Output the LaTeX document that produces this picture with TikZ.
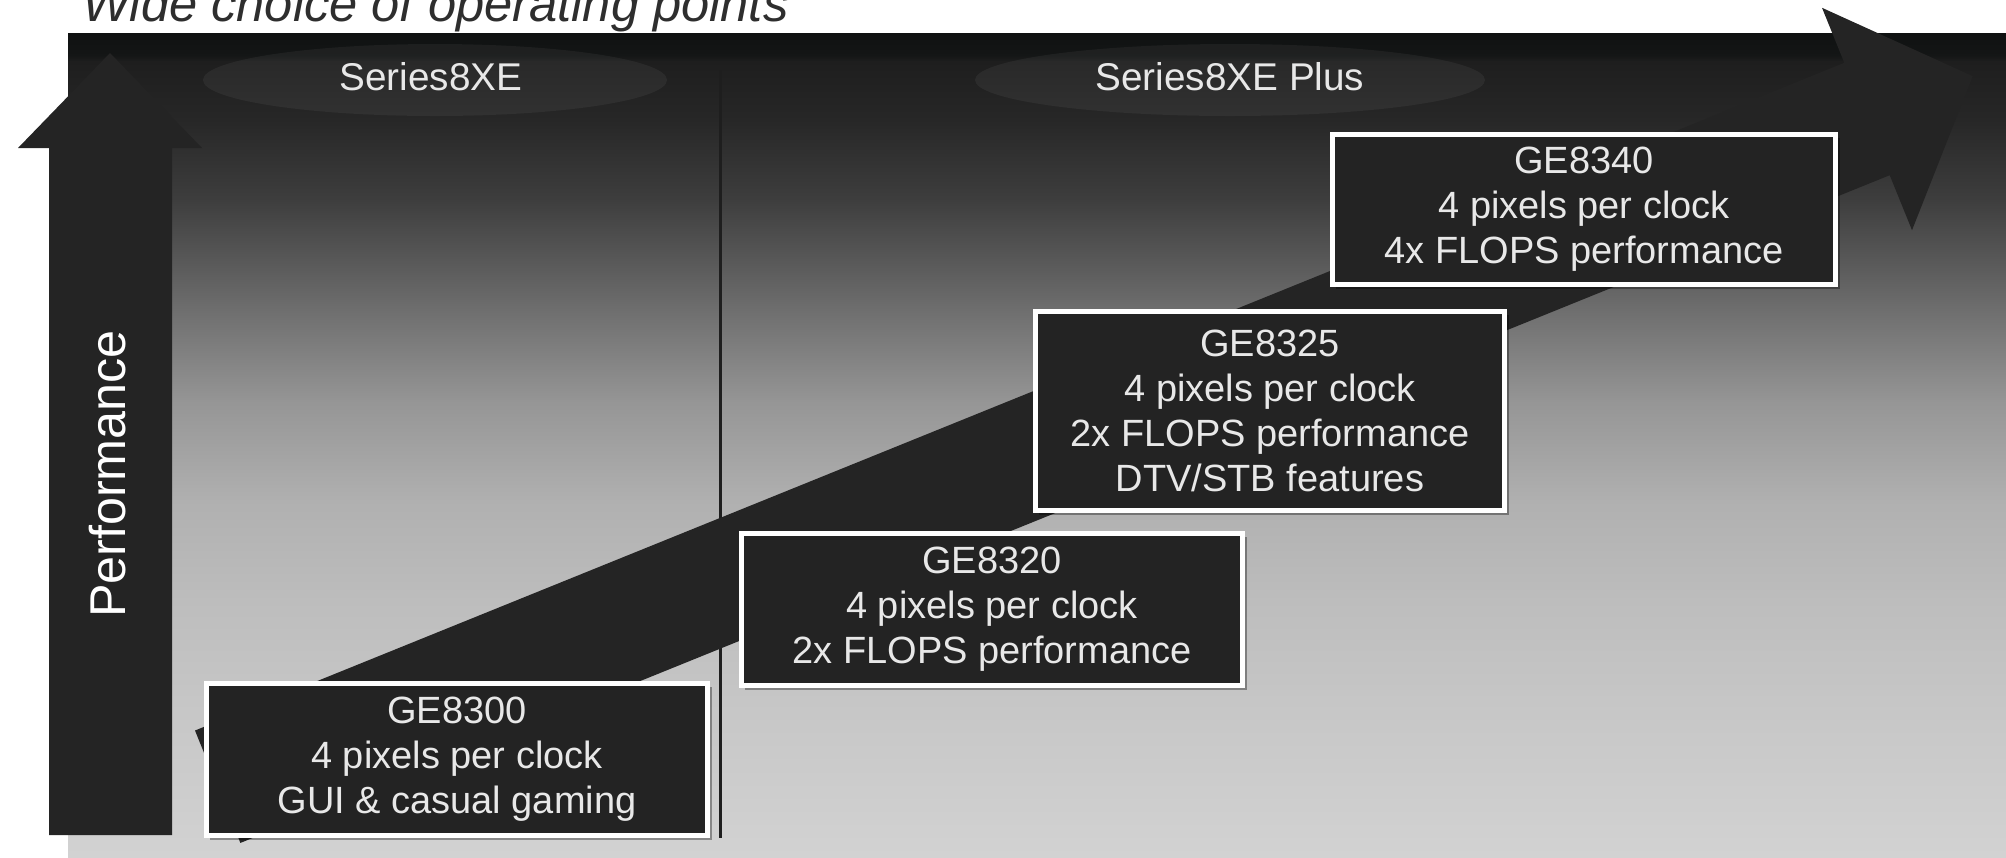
\documentclass[tikz,border=0pt]{standalone}
\usepackage{fontspec}
\setmainfont{Liberation Sans}
\usepackage{tikz}
\usetikzlibrary{shadows}
\definecolor{bgA}{HTML}{0F1111}
\definecolor{bgB}{HTML}{141616}
\definecolor{bgC}{HTML}{1E1E1E}
\definecolor{bgD}{HTML}{272727}
\definecolor{bgE}{HTML}{3E3E3E}
\definecolor{bgF}{HTML}{6A6A6A}
\definecolor{bgG}{HTML}{959595}
\definecolor{bgH}{HTML}{B0B0B0}
\definecolor{bgI}{HTML}{BDBDBD}
\definecolor{bgJ}{HTML}{C6C6C6}
\definecolor{bgK}{HTML}{D2D2D2}
\definecolor{arrowgray}{HTML}{242424}
\definecolor{boxgray}{HTML}{232323}
\definecolor{boxtext}{HTML}{E8E8E8}
\definecolor{titlegray}{HTML}{2E2E2E}
\tikzset{
  modelbox/.style    = {draw=white,line width=1.4pt,fill=boxgray,text=boxtext,
                        align=center,inner sep=0pt,
                        font=\fontsize{10.8}{12.8}\selectfont,
                        drop shadow={shadow xshift=0.04cm,shadow yshift=-0.04cm,
                                     fill=black,opacity=0.35}},
  serieslabel/.style = {text=boxtext,font=\fontsize{11}{13}\selectfont},
  seriesglow/.style  = {fill=white,opacity=0.05},
  bigarrow/.style    = {fill=arrowgray},
  divider/.style     = {draw=bgC,line width=0.85pt}
}

\begin{document}
\begin{tikzpicture}[x=0.01cm,y=-0.01cm]
  \useasboundingbox (0,0) rectangle (2006,857);
  % --- title, mostly cut off by the top edge
  \node[anchor=base west,text=titlegray,font=\itshape\fontsize{14.4}{16}\selectfont]
       (title) at (70,21) {Wide choice of operating points};
  % --- background panel, dark at the top, light at the bottom
  \foreach \ya/\yb/\ca/\cb in {33/56/bgA/bgB, 55/62/bgB/bgC, 61/121/bgC/bgD,
      120/201/bgD/bgE, 200/301/bgE/bgF, 300/401/bgF/bgG, 400/501/bgG/bgH,
      500/601/bgH/bgI, 600/701/bgI/bgJ, 700/857/bgJ/bgK}
    { \shade[top color=\ca,bottom color=\cb] (68,\ya) rectangle (2006,\yb); }
  \fill[seriesglow] (435,80) ellipse [x radius=232,y radius=36];
  \fill[seriesglow] (1230,80) ellipse [x radius=255,y radius=36];
  \node[serieslabel] (s8xe)     at (431,77)  {Series8XE};
  \node[serieslabel] (s8xeplus) at (1230,77) {Series8XE Plus};
  % --- divider between the two series
  \draw[divider] (720,70) -- (720,838);
  % --- vertical performance arrow
  \fill[bigarrow] (49,835) -- (172,835) -- (172,148) -- (202,148)
                  -- (110,53) -- (18,148) -- (49,148) -- cycle;
  \node[rotate=90,text=white,font=\fontsize{14.3}{16}\selectfont]
       (perf) at (108,474) {Performance};
  % --- diagonal arrow behind the boxes
  \fill[bigarrow] (195,730.5) -- (1844.3,62.8) -- (1822,7.8) -- (1972.7,76.2)
                  -- (1912,230.2) -- (1889.7,175.2) -- (240.4,842.9) -- cycle;
  % --- the four cores
  \node[modelbox,minimum width=5.01cm,minimum height=1.52cm]
       (ge8300) at (457,759.5) {GE8300\\4 pixels per clock\\GUI \& casual gaming};
  \node[modelbox,minimum width=5.01cm,minimum height=1.52cm]
       (ge8320) at (992,609.5) {GE8320\\4 pixels per clock\\2x FLOPS performance};
  \node[modelbox,minimum width=4.69cm,minimum height=1.99cm]
       (ge8325) at (1270,411) {GE8325\\4 pixels per clock\\2x FLOPS performance\\DTV/STB features};
  \node[modelbox,minimum width=5.03cm,minimum height=1.50cm]
       (ge8340) at (1584,209.5) {GE8340\\4 pixels per clock\\4x FLOPS performance};
\end{tikzpicture}
\end{document}
